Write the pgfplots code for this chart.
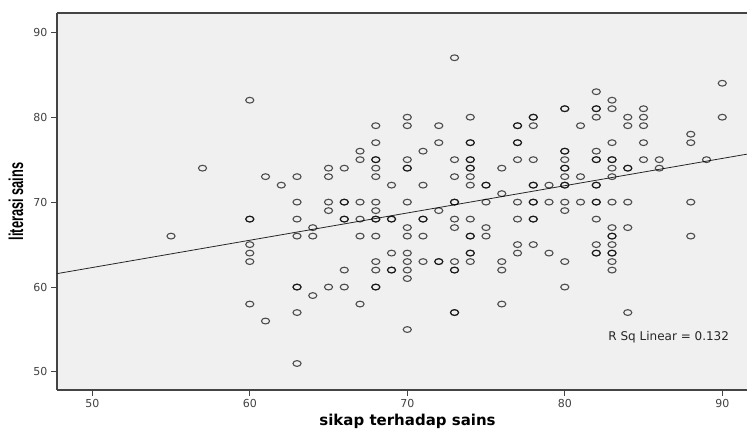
\documentclass[border=0pt]{standalone}
\usepackage{fontspec}
\setmainfont{DejaVu Sans}
\newfontfamily\arialfont{Liberation Sans}
\usepackage{pgfplots}
\pgfplotsset{compat=1.18}
\definecolor{plotbg}{HTML}{F0F0F0}
\definecolor{framec}{HTML}{444444}
\begin{document}
\begin{tikzpicture}
\begin{axis}[
  scale only axis,
  width=690pt, height=377pt,
  xmin=47.76, xmax=91.57,
  ymin=47.88, ymax=92.27,
  axis x line*=bottom, axis y line*=left,
  axis line style={draw=framec, line width=1.2pt},
  axis background/.style={fill=plotbg},
  xtick={50,60,...,90}, ytick={50,60,...,90},
  tick align=outside,
  major tick length=6pt,
  tick style={draw=framec, line width=1pt},
  ticklabel style={font=\fontsize{11}{13}\selectfont, text=black!75},
  /pgf/number format/assume math mode=true,
  xlabel={sikap terhadap sains},
  ylabel={\scalebox{0.64}[1]{\arialfont\bfseries\fontsize{20}{24}\selectfont literasi sains}},
  xlabel style={at={(axis description cs:0.508,-0.0822)}, anchor=center,
    font=\bfseries\fontsize{15}{18}\selectfont},
  ylabel style={at={(axis description cs:-0.0594,0.5)}, anchor=center},
  clip=false,
]
% scatter points (duplicates where the reference circle is drawn darker)
\addplot[only marks, mark=o, mark size=2.9pt,
  mark options={draw=black, draw opacity=0.68, line width=1.1pt, xscale=1.4}]
coordinates {
(55,66) (57,74)
(60,82) (60,68) (60,68) (60,65) (60,64) (60,63) (60,58)
(61,73) (61,56) (62,72)
(63,73) (63,70) (63,68) (63,66) (63,60) (63,60) (63,57) (63,51)
(64,67) (64,66) (64,59)
(65,74) (65,73) (65,70) (65,69) (65,60)
(66,74) (66,70) (66,70) (66,68) (66,68) (66,62) (66,60)
(67,76) (67,75) (67,70) (67,68) (67,66) (67,58)
(68,79) (68,77) (68,75) (68,75) (68,74) (68,73) (68,70) (68,69) (68,68) (68,68) (68,66) (68,63) (68,62) (68,60) (68,60)
(69,72) (69,68) (69,68) (69,64) (69,62) (69,62)
(70,80) (70,79) (70,75) (70,74) (70,74) (70,70) (70,67) (70,66) (70,64) (70,63) (70,62) (70,61) (70,55)
(71,76) (71,72) (71,68) (71,68) (71,66) (71,63)
(72,79) (72,77) (72,69) (72,63) (72,63)
(73,87) (73,75) (73,73) (73,70) (73,70) (73,68) (73,67) (73,63) (73,62) (73,62) (73,57) (73,57)
(74,80) (74,77) (74,77) (74,75) (74,75) (74,74) (74,74) (74,73) (74,72) (74,68) (74,66) (74,66) (74,64) (74,64) (74,63)
(75,72) (75,72) (75,70) (75,67) (75,66)
(76,74) (76,71) (76,63) (76,62) (76,58)
(77,79) (77,79) (77,77) (77,77) (77,75) (77,70) (77,68) (77,65) (77,64)
(78,80) (78,80) (78,79) (78,75) (78,72) (78,72) (78,70) (78,70) (78,68) (78,68) (78,65)
(79,72) (79,70) (79,64)
(80,81) (80,81) (80,76) (80,76) (80,75) (80,74) (80,74) (80,73) (80,72) (80,72) (80,70) (80,69) (80,63) (80,60)
(81,79) (81,73) (81,70)
(82,83) (82,81) (82,81) (82,80) (82,76) (82,75) (82,75) (82,72) (82,72) (82,70) (82,70) (82,68) (82,65) (82,64) (82,64)
(83,82) (83,81) (83,77) (83,75) (83,75) (83,74) (83,73) (83,70) (83,67) (83,66) (83,66) (83,65) (83,64) (83,64) (83,63) (83,62)
(84,80) (84,79) (84,74) (84,74) (84,70) (84,67) (84,57)
(85,81) (85,80) (85,79) (85,77) (85,75)
(86,75) (86,74)
(88,78) (88,77) (88,70) (88,66)
(89,75)
(90,84) (90,80)
};
% fit line
\addplot[black!85, line width=0.8pt] coordinates {(47.76,61.58) (91.57,75.65)};
\node[anchor=west, inner sep=0pt, font=\fontsize{12}{14}\selectfont, text=black!85]
  at (axis cs:82.76,54.09) {R Sq Linear = 0.132};
\draw[framec, line width=1.2pt] (rel axis cs:0,1) -- (rel axis cs:1,1);
\coordinate (bl) at (rel axis cs:0,0);
\coordinate (tr) at (rel axis cs:1,1);
\end{axis}
\pgfresetboundingbox
\path[use as bounding box] ([xshift=-57pt,yshift=-40pt]bl) rectangle ([yshift=13pt]tr);
\end{tikzpicture}
\end{document}
